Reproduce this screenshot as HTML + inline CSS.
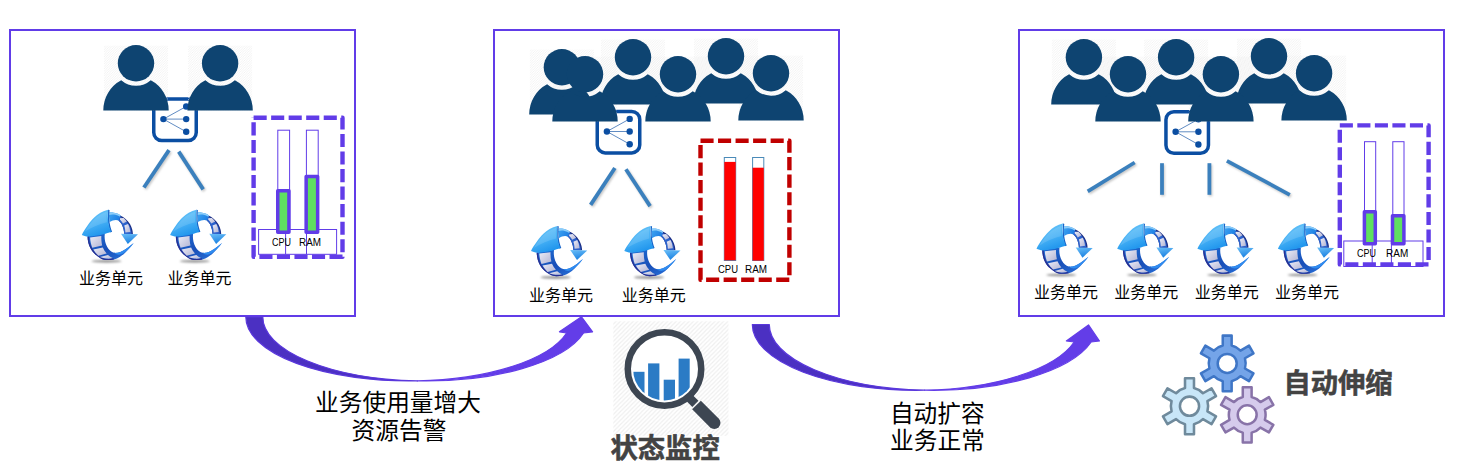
<!DOCTYPE html>
<html lang="zh-CN">
<head>
<meta charset="utf-8">
<title>自动伸缩</title>
<style>
  html, body { margin: 0; padding: 0; background: #ffffff; }
  body { width: 1458px; height: 474px; overflow: hidden; position: relative; }
  svg { position: absolute; left: 0; top: 0; display: block; }
  text { font-family: "Liberation Sans", "Noto Sans CJK SC", sans-serif; }
  .cn { font-size: 16px; fill: #000; text-anchor: middle; }
  .big { font-size: 23.7px; fill: #000; text-anchor: middle; }
  .bold { font-size: 27.3px; font-weight: bold; fill: #434343; stroke: #434343; stroke-width: 0.55px; stroke-linejoin: round; }
  .lab { font-size: 10.5px; fill: #000; }
</style>
</head>
<body>
<svg width="1458" height="474" viewBox="0 0 1458 474">
<defs>
  <pattern id="hatch2" width="2.4" height="2.4" patternUnits="userSpaceOnUse">
    <path d="M-1,1 L1,-1 M0,2.4 L2.4,0 M1.4,3.4 L3.4,1.4" stroke="#ececec" stroke-width="0.6" fill="none"/>
  </pattern>
  <pattern id="hatch" width="4.3" height="4.3" patternUnits="userSpaceOnUse">
    <path d="M-1,1 L1,-1 M0,4.3 L4.3,0 M3.3,5.3 L5.3,3.3" stroke="#eeeeee" stroke-width="1.1" fill="none"/>
  </pattern>
  <!-- person: origin = head centre -->
  <rect id="pbg" x="-32" y="-17.6" width="64" height="64.8" fill="url(#hatch2)"/>
  <g id="person">
    <circle cx="0" cy="0" r="18.2" fill="#0e4471"/>
    <path d="M-32.7,47.2 A32.7,33.9 0 0 1 -14.78,16.96 A22.5,22.5 0 0 0 14.78,16.96 A32.7,33.9 0 0 1 32.7,47.2 Z" fill="#0e4471"/>
  </g>

  <!-- load balancer icon 46x45, origin = top-left -->
  <g id="lb">
    <rect x="1.75" y="1.75" width="42.5" height="41.5" rx="8" ry="8" fill="#ffffff" stroke="#0b4ea2" stroke-width="3.5"/>
    <g stroke="#0b4ea2" stroke-width="0.65" fill="none">
      <line x1="11.4" y1="21.8" x2="34.2" y2="9.2"/>
      <line x1="11.4" y1="21.8" x2="34.2" y2="21.8"/>
      <line x1="11.4" y1="21.8" x2="34.2" y2="34.5"/>
    </g>
    <g fill="#0b4ea2">
      <circle cx="11.4" cy="21.8" r="3.2"/>
      <circle cx="34.2" cy="9.2" r="3.2"/>
      <circle cx="34.2" cy="21.8" r="3.2"/>
      <circle cx="34.2" cy="34.5" r="3.2"/>
    </g>
  </g>


  <!-- service unit icon, local box ~ 64x60, ink x 3.8..59.2, y 4.8..57 -->
  <linearGradient id="gBig" x1="0.2" y1="0" x2="0.6" y2="1">
    <stop offset="0" stop-color="#6cc7f9"/>
    <stop offset="0.55" stop-color="#45b0f5"/>
    <stop offset="1" stop-color="#1d93ec"/>
  </linearGradient>
  <linearGradient id="gSmall" x1="0" y1="0" x2="0.3" y2="1">
    <stop offset="0" stop-color="#6cc0f8"/>
    <stop offset="1" stop-color="#1c82e2"/>
  </linearGradient>
  <linearGradient id="gBand" x1="0" y1="0" x2="1" y2="0.4">
    <stop offset="0" stop-color="#3fa6f2"/>
    <stop offset="1" stop-color="#1e7fe4"/>
  </linearGradient>
  <linearGradient id="gBody" x1="0" y1="0" x2="1" y2="1">
    <stop offset="0" stop-color="#1e6fd6"/>
    <stop offset="0.5" stop-color="#1a4fb8"/>
    <stop offset="1" stop-color="#2a78e0"/>
  </linearGradient>
  <linearGradient id="gFrame" x1="0" y1="0" x2="1" y2="1">
    <stop offset="0" stop-color="#ececf6"/>
    <stop offset="1" stop-color="#b2b4d4"/>
  </linearGradient>
  <filter id="ish" x="-20%" y="-200%" width="140%" height="500%">
    <feGaussianBlur stdDeviation="1.1"/>
  </filter>
  <g id="svc">
    <ellipse cx="28.5" cy="56.2" rx="15" ry="1.5" fill="#000" fill-opacity="0.4" filter="url(#ish)"/>
    <!-- lower film body + tail -->
    <path d="M9.5,31.2 C9.6,35.6 10.6,40 12.6,43.6 C14,46 15.4,47.8 17.1,49.3 C19,51 20.8,52.4 22.8,53.4 C24.8,54.4 27,55 29.1,55 C31.5,55 33.8,54.9 36,54.4 C38,53.8 40,53 41.7,51.9 C43.8,50.6 45.7,49.1 47.4,47.4 C49,45.8 50.5,44.1 51.9,42.4 C53.2,40.9 54.5,39.4 55.7,37.9 C54,39.3 52.3,40.7 50.6,42 C48.7,43.4 46.9,44.7 44.9,45.8 C43.2,46.7 41.6,47.4 39.8,47.8 C38.5,48 37.2,48 36,47.8 C34.6,47.4 33.4,46.7 32.3,45.8 C31,44.6 30,43.2 29.1,41.7 C28.2,40.1 27.6,38.5 27.2,36.7 C26.8,35 26.6,33.3 26.6,31.6 L26.8,28.6 Z" fill="url(#gBody)"/>
    <!-- navy outer rim -->
    <path d="M9.5,31.2 C9.6,35.6 10.6,40 12.6,43.6 C14,46 15.4,47.8 17.1,49.3 C19,51 20.8,52.4 22.8,53.4 C24.8,54.4 27,55 29.1,55 C31.5,55 33.8,54.9 36,54.4 L35.4,53.3 C33.4,53.8 31.3,53.9 29.2,53.9 C27.2,53.9 25.2,53.3 23.4,52.4 C21.5,51.5 19.8,50.2 18,48.5 C16.4,47 15.1,45.3 13.8,43 C11.9,39.6 11,35.4 10.9,31.2 Z" fill="#2a2f92"/>
    <!-- frames -->
    <path d="M12.1,32.4 L23.3,31.1 C23.2,34.4 23.5,37.6 24.2,40.4 L14.3,42.7 C13,39.4 12.3,36 12.1,32.4 Z" fill="url(#gFrame)"/>
    <path d="M15.3,44.4 L24.8,42.5 C25.8,44.8 27.1,46.9 28.7,48.6 L20.4,50.7 C18.3,48.9 16.6,46.8 15.3,44.4 Z" fill="url(#gFrame)"/>
    <path d="M22,52.1 L30,50 C31.4,51.3 33,52.3 34.7,53 C32.6,53.6 30.6,53.8 28.5,53.6 C26.2,53.4 24,52.9 22,52.1 Z" fill="url(#gFrame)"/>
    <!-- bright tail -->
    <path d="M55.7,37.9 C54,39.3 52.3,40.7 50.6,42 C48.7,43.4 46.9,44.7 44.9,45.8 C43.2,46.7 41.6,47.4 39.8,47.8 C38.5,48 37.2,48 36,47.8 C38.6,50 41.8,50.4 45,48.6 C49,46.2 52.6,42.2 55.7,37.9 Z" fill="#2f8cf0"/>
    <!-- small arrow: film part -->
    <path d="M42.2,10.4 C44.2,11.3 46,12.5 47.6,13.9 C49.4,15.4 50.9,17.2 52.1,19.2 C53.1,20.9 53.8,22.8 54.3,24.8 C54.6,26.2 54.8,27.5 54.9,29 L46.2,29 C46.1,27.2 45.9,25.6 45.5,24 C45,22.2 44.4,20.5 43.6,19 C42.8,17.6 41.8,16.4 40.5,15.4 Z" fill="#1c2e85"/>
    <path d="M41.8,11.6 C43.6,12.4 45.3,13.5 46.8,14.8 C48.5,16.3 49.9,18 51,19.8 C52,21.5 52.6,23.2 53.1,25.1 C53.4,26.4 53.5,27.6 53.6,29 L46.2,29 C46.1,27.2 45.9,25.6 45.5,24 C45,22.2 44.4,20.5 43.6,19 C42.8,17.6 41.8,16.4 40.5,15.4 Z" fill="#2c62cc"/>
    <path d="M42,13.2 L45.6,12.9 C46.9,14 48,15.2 48.9,16.5 L45,18.6 C44.2,17.4 43.2,15.8 42,14.8 Z" fill="url(#gFrame)"/>
    <path d="M46.2,20.6 L50,18.9 C51.2,21 52,23.6 52.4,27 L47.4,27.6 C47.3,25.2 46.9,22.6 46.2,20.6 Z" fill="url(#gFrame)"/>
    <!-- small arrow: blue swoop -->
    <path d="M30.6,7.8 C32,7.4 33.4,7.3 34.8,7.4 C36.4,7.6 37.9,8 39.2,8.6 C40.4,9.1 41.5,9.7 42.6,10.5 L40.7,15.6 C39.8,15.1 38.9,14.9 37.9,14.9 C36.8,14.9 35.8,15.1 34.8,15.4 C33.6,15.8 32.6,16.4 31.6,17.1 Z" fill="url(#gBand)"/>
    <path d="M30.6,7.8 C32,7.4 33.4,7.3 34.8,7.4 C36.4,7.6 37.9,8 39.2,8.6 C40.4,9.1 41.5,9.7 42.6,10.5 L42.1,11.8 C40.6,10.8 39,10.1 37.4,9.7 C35.2,9.2 32.9,9.3 30.7,9.9 Z" fill="#8ccdf9"/>
    <!-- small arrow head -->
    <path d="M43,28.7 L60,29.2 L49.8,38.9 Z" fill="url(#gSmall)"/>
    <!-- big arrow head: dark side face then main face -->
    <path d="M30.1,4.8 C30.7,4.6 31.3,4.8 31.6,5.2 C31,9.4 31,13.6 31.6,17.6 C32.1,21 32.9,24 34.1,26.8 L32.2,27.5 L30,18 Z" fill="#1763c8"/>
    <path d="M30.1,4.8 C24.5,6 19.8,9 16.2,12.6 C13.6,15.2 12,17.2 10.6,19 C8.8,21.4 7.4,23.5 6.2,25.4 C5.2,27 4.4,28.5 3.8,29.9 C5.5,30.8 7.8,31.4 10.1,31.6 C15,31.5 20,30.6 25.3,29.3 C28.2,28.6 31,27.8 33.1,26.8 C31.8,24 30.9,21 30.4,17.7 C29.8,13.5 29.7,9 30.1,4.8 Z" fill="url(#gBig)"/>
    <path d="M28.9,6.6 C24,8.2 19.6,11 16,14.4 C12.4,18 9.4,22 7,26.6 C13,22.6 20.6,19.2 28.9,17.2 C28.5,13.6 28.5,10 28.9,6.6 Z" fill="#ffffff" fill-opacity="0.13"/>
  </g>



  <!-- curved up arrow (PowerPoint style) -->
  <g id="carrow1" stroke-width="1.2" stroke-linejoin="round">
    <path d="M245.8,317 A163,64 0 0 0 417.3,380.91 A163,64 0 0 1 262.8,317 Z" fill="#4b30c2" stroke="#5a38dc"/>
    <path d="M417.3,380.91 A163,64 0 0 0 566.6,333 L559.4,331.8 L581.5,316.8 L592.6,331.8 L583.6,333 A163,64 0 0 1 417.3,380.91 Z" fill="#633de8" stroke="#633de8"/>
  </g>
  <g id="carrow2" stroke-width="1.2" stroke-linejoin="round">
    <path d="M752.3,324.5 A163.9,65.8 0 0 0 924.7,390.21 A163.9,65.8 0 0 1 769.3,324.5 Z" fill="#4b30c2" stroke="#5a38dc"/>
    <path d="M924.7,390.21 A163.9,65.8 0 0 0 1074.2,342 L1066.3,341 L1088.5,324.9 L1099.5,341 L1091.2,342 A163.9,65.8 0 0 1 924.7,390.21 Z" fill="#633de8" stroke="#633de8"/>
  </g>
  <g id="gear">
    <path fill-rule="evenodd" d="M-4.40,-17.76 L-4.40,-27.50 L4.40,-27.50 L4.40,-17.76 A18.30,18.30 0 0 1 13.18,-12.69 L21.62,-17.56 L26.02,-9.94 L17.58,-5.07 A18.30,18.30 0 0 1 17.58,5.07 L26.02,9.94 L21.62,17.56 L13.18,12.69 A18.30,18.30 0 0 1 4.40,17.76 L4.40,27.50 L-4.40,27.50 L-4.40,17.76 A18.30,18.30 0 0 1 -13.18,12.69 L-21.62,17.56 L-26.02,9.94 L-17.58,5.07 A18.30,18.30 0 0 1 -17.58,-5.07 L-26.02,-9.94 L-21.62,-17.56 L-13.18,-12.69 A18.30,18.30 0 0 1 -4.40,-17.76 Z"/>
    <circle r="9.4" fill="#ffffff"/>
  </g>
  <clipPath id="lens"><circle cx="664.5" cy="368.9" r="31.5"/></clipPath>

  <filter id="lsh" x="-20%" y="-20%" width="140%" height="140%">
    <feGaussianBlur stdDeviation="1.2"/>
  </filter>
</defs>

<!-- ================= PANELS ================= -->
<g fill="none" stroke="#613ce8" stroke-width="2">
  <rect x="10" y="30" width="345" height="286"/>
  <rect x="494" y="30" width="345" height="286"/>
  <rect x="1019" y="30" width="425" height="286"/>
</g>

<!-- ================= PANEL 1 ================= -->
<g id="p1">
  <use href="#lb" x="152" y="97.3"/>
  <use href="#pbg" x="136" y="63.3"/>
  <use href="#pbg" x="220.1" y="63.3"/>
  <use href="#person" x="136" y="63.3"/>
  <use href="#person" x="220.1" y="63.3"/>
  <g stroke="#000" stroke-opacity="0.22" stroke-width="3.8" filter="url(#lsh)">
    <line x1="170.2" y1="151.6" x2="145.1" y2="189"/>
    <line x1="179.9" y1="153.1" x2="204.4" y2="190.9"/>
  </g>
  <g stroke="#3b80bd" stroke-width="3.8">
    <line x1="169" y1="150.1" x2="143.9" y2="187.5"/>
    <line x1="178.7" y1="151.6" x2="203.2" y2="189.4"/>
  </g>
</g>

<!-- ================= PANEL 2 ================= -->
<g id="p2">
  <use href="#lb" x="595.5" y="109.7"/>
  <use href="#pbg" x="561.9" y="67.2"/>
  <use href="#pbg" x="633" y="57.2"/>
  <use href="#pbg" x="726" y="56.2"/>
  <use href="#pbg" x="585" y="74.2"/>
  <use href="#pbg" x="678" y="74.2"/>
  <use href="#pbg" x="771" y="73.2"/>
  <use href="#person" x="561.9" y="67.2"/>
  <use href="#person" x="633" y="57.2"/>
  <use href="#person" x="726" y="56.2"/>
  <use href="#person" x="585" y="74.2"/>
  <use href="#person" x="678" y="74.2"/>
  <use href="#person" x="771" y="73.2"/>
  <g stroke="#000" stroke-opacity="0.22" stroke-width="3.8" filter="url(#lsh)">
    <line x1="616.1" y1="169.5" x2="591.8" y2="206.4"/>
    <line x1="627.1" y1="170.7" x2="651.3" y2="207.6"/>
  </g>
  <g stroke="#3b80bd" stroke-width="3.8">
    <line x1="614.9" y1="168" x2="590.6" y2="204.9"/>
    <line x1="625.9" y1="169.2" x2="650.1" y2="206.1"/>
  </g>
</g>

<!-- ================= PANEL 3 ================= -->
<g id="p3">
  <use href="#lb" x="1164.2" y="110"/>
  <use href="#pbg" x="1083.9" y="57.2"/>
  <use href="#pbg" x="1176.1" y="57.2"/>
  <use href="#pbg" x="1269" y="56.2"/>
  <use href="#pbg" x="1128" y="74.2"/>
  <use href="#pbg" x="1220.9" y="74.2"/>
  <use href="#pbg" x="1314.1" y="73.2"/>
  <use href="#person" x="1083.9" y="57.2"/>
  <use href="#person" x="1176.1" y="57.2"/>
  <use href="#person" x="1269" y="56.2"/>
  <use href="#person" x="1128" y="74.2"/>
  <use href="#person" x="1220.9" y="74.2"/>
  <use href="#person" x="1314.1" y="73.2"/>
  <g stroke="#000" stroke-opacity="0.22" stroke-width="3.8" filter="url(#lsh)">
    <line x1="1135.9" y1="164" x2="1088.9" y2="192.8"/>
    <line x1="1162.9" y1="164.7" x2="1162.9" y2="196.3"/>
    <line x1="1210.4" y1="164.7" x2="1210.4" y2="196.3"/>
    <line x1="1228.1" y1="162.4" x2="1291" y2="196.3"/>
  </g>
  <g stroke="#3b80bd" stroke-width="3.8">
    <line x1="1134.7" y1="162.5" x2="1087.7" y2="191.3"/>
    <line x1="1162" y1="163.2" x2="1162" y2="194.8"/>
    <line x1="1209.4" y1="163.2" x2="1209.4" y2="194.8"/>
    <line x1="1226.9" y1="160.9" x2="1289.8" y2="194.8"/>
  </g>
</g>

<!-- ================= CHARTS ================= -->
<!-- panel 1 chart -->
<g id="chart1">
  <g fill="#ffffff" stroke="#613ce8" stroke-width="1">
    <rect x="277.8" y="130.2" width="11.8" height="100"/>
    <rect x="306.4" y="130.2" width="11.8" height="100"/>
    <rect x="258.6" y="229.5" width="78" height="24.8"/>
    <line x1="285.6" y1="229.5" x2="285.6" y2="254.3"/>
    <line x1="306.5" y1="229.5" x2="306.5" y2="254.3"/>
  </g>
  <g fill="#5fe060" stroke="#613ce8" stroke-width="3.5" stroke-linejoin="round">
    <rect x="277.75" y="190.75" width="11.2" height="41.4"/>
    <rect x="306.15" y="176.55" width="11.5" height="55.6"/>
  </g>
  <text class="lab" x="272.1" y="246.1" textLength="19" lengthAdjust="spacingAndGlyphs">CPU</text>
  <text class="lab" x="299.1" y="246.1" textLength="22" lengthAdjust="spacingAndGlyphs">RAM</text>
  <path d="M253.6,117.7 H342.5 V256.8 H253.6 V117.7" fill="none" stroke="#613ce8" stroke-width="4.4" stroke-dasharray="13.1 4.43" stroke-linejoin="round"/>
</g>
<!-- panel 2 chart -->
<g id="chart2">
  <g fill="#ffffff" stroke="#4a8ab8" stroke-width="1">
    <rect x="724.3" y="157.5" width="11.4" height="103"/>
    <rect x="752.6" y="157.5" width="11.2" height="103"/>
  </g>
  <g fill="#ff0000">
    <rect x="724.3" y="161.9" width="11.4" height="98.4"/>
    <rect x="752.6" y="167.7" width="11.2" height="92.9"/>
  </g>
  <text class="lab" x="718" y="272.8" textLength="20" lengthAdjust="spacingAndGlyphs">CPU</text>
  <text class="lab" x="745.1" y="272.8" textLength="22" lengthAdjust="spacingAndGlyphs">RAM</text>
  <path d="M700.5,140.8 H789.4 V279.7 H700.5 V140.8" fill="none" stroke="#c00000" stroke-width="4.4" stroke-dasharray="13.1 4.43" stroke-linejoin="round"/>
</g>
<!-- panel 3 chart -->
<g id="chart3">
  <g fill="#ffffff" stroke="#613ce8" stroke-width="1">
    <rect x="1364.5" y="141.7" width="11.2" height="100"/>
    <rect x="1392.8" y="141.7" width="11.2" height="100"/>
    <rect x="1343.8" y="241" width="79.2" height="25.5"/>
    <line x1="1372.2" y1="241" x2="1372.2" y2="266.5"/>
    <line x1="1391.4" y1="241" x2="1391.4" y2="266.5"/>
  </g>
  <g fill="#5fe060" stroke="#613ce8" stroke-width="3.5" stroke-linejoin="round">
    <rect x="1364.4" y="211.65" width="10.9" height="32"/>
    <rect x="1392.5" y="215.75" width="11.4" height="27.9"/>
  </g>
  <text class="lab" x="1357" y="256.8" textLength="19" lengthAdjust="spacingAndGlyphs">CPU</text>
  <text class="lab" x="1386.1" y="256.8" textLength="22.2" lengthAdjust="spacingAndGlyphs">RAM</text>
  <path d="M1339.8,125.4 H1428.6 V264.4 H1339.8 V125.4" fill="none" stroke="#613ce8" stroke-width="4.4" stroke-dasharray="13.1 4.43" stroke-linejoin="round"/>
</g>

<!-- ================= SERVICE UNITS ================= -->
<g id="services">
  <use href="#svc" x="78" y="205"/>
  <use href="#svc" x="166.3" y="205"/>
  <use href="#svc" x="527.2" y="221.2"/>
  <use href="#svc" x="620.5" y="221.2"/>
  <use href="#svc" x="1032.7" y="218.8"/>
  <use href="#svc" x="1113.4" y="218.8"/>
  <use href="#svc" x="1193.6" y="218.8"/>
  <use href="#svc" x="1274.1" y="218.8"/>
  <text class="cn" x="111.1" y="283.5">业务单元</text>
  <text class="cn" x="199.4" y="283.5">业务单元</text>
  <text class="cn" x="561.1" y="300.5">业务单元</text>
  <text class="cn" x="653.8" y="300.5">业务单元</text>
  <text class="cn" x="1066.1" y="298">业务单元</text>
  <text class="cn" x="1146.2" y="298">业务单元</text>
  <text class="cn" x="1226.7" y="298">业务单元</text>
  <text class="cn" x="1307" y="298">业务单元</text>
</g>

<!-- ================= CURVED ARROWS ================= -->
<use href="#carrow1"/>
<use href="#carrow2"/>

<!-- ================= BOTTOM LABELS / ICONS ================= -->
<text class="big" x="398" y="411.2">业务使用量增大</text>
<text class="big" x="399" y="439.3">资源告警</text>
<text class="big" x="937.3" y="422.1">自动扩容</text>
<text class="big" x="937.5" y="449">业务正常</text>

<!-- magnifier: 状态监控 -->
<g id="monitor">
  <rect x="613.3" y="321.3" width="115.2" height="114.5" fill="url(#hatch)"/>
  <circle cx="664.5" cy="368.9" r="36" fill="#ffffff"/>
  <g clip-path="url(#lens)" fill="#2b7bc5">
    <rect x="633.2" y="371.8" width="11.3" height="40"/>
    <rect x="648.1" y="363.4" width="11.3" height="48"/>
    <rect x="663.7" y="379.7" width="11.3" height="30"/>
    <rect x="678.6" y="358.6" width="11.1" height="50"/>
  </g>
  <circle cx="664.5" cy="368.9" r="36.75" fill="none" stroke="#3d4652" stroke-width="6.5"/>
  <line x1="689" y1="397.5" x2="695.4" y2="403.9" stroke="#3d4652" stroke-width="8.7"/>
  <g transform="translate(696.5,405) rotate(45)"><path d="M0,-6.15 H25.2 A6.15,6.15 0 0 1 25.2,6.15 H0 Z" fill="#3d4652"/></g>
  <text class="bold" x="610.5" y="458">状态监控</text>
</g>

<!-- gears: 自动伸缩 -->
<g id="autoscale" stroke-width="2.5" stroke-linejoin="round">
  <use href="#gear" transform="translate(1227.2,363.4) scale(1.01)" fill="#74a4e8" stroke="#3f76c6"/>
  <use href="#gear" transform="translate(1189.5,406.2) scale(1.02)" fill="#c8e6f8" stroke="#6f8a9c"/>
  <use href="#gear" transform="translate(1247.2,414.8) scale(1.005)" fill="#d5cbec" stroke="#8873a8"/>
</g>
<text class="bold" x="1283.4" y="392.9">自动伸缩</text>

</svg>
</body>
</html>
